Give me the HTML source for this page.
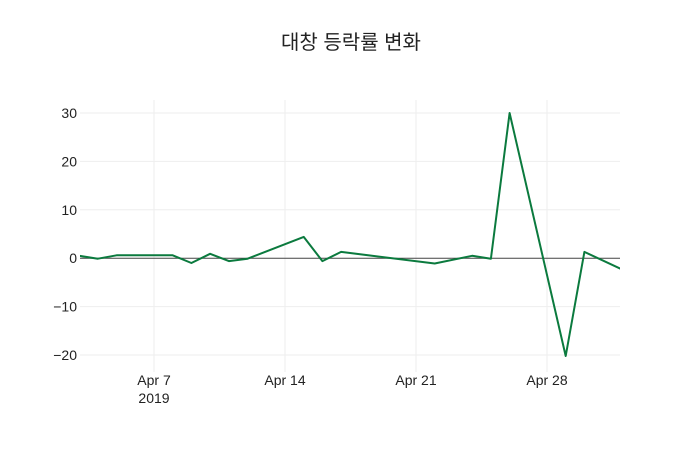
<!DOCTYPE html>
<html><head><meta charset="utf-8"><style>
body{margin:0;background:#fff;}
svg{display:block;font-family:"Liberation Sans","Noto Sans CJK KR",sans-serif;}
</style></head><body>
<svg id="chart" width="700" height="450">
<text x="351" y="49" text-anchor="middle" font-size="20" fill="#222">대창 등락률 변화</text>
<g id="grid"></g><g id="axes"></g><g id="series"></g>
</svg>
<script>
const dates = ["2019-04-03","2019-04-04","2019-04-05","2019-04-08","2019-04-09","2019-04-10","2019-04-11","2019-04-12","2019-04-15","2019-04-16","2019-04-17","2019-04-22","2019-04-24","2019-04-25","2019-04-26","2019-04-29","2019-04-30","2019-05-02"];
const values = [0.5,-0.1,0.6,0.6,-1.0,0.9,-0.6,-0.1,4.4,-0.6,1.3,-1.1,0.5,-0.1,30.0,-20.2,1.3,-2.3];
const yTicks = [-20,-10,0,10,20,30];
const xTickDates = ["2019-04-07","2019-04-14","2019-04-21","2019-04-28"];
const xTickLabels = ["Apr 7","Apr 14","Apr 21","Apr 28"];

const NS="http://www.w3.org/2000/svg";
const L=80,R=620,T=100,B=372;
const t0=Date.UTC(2019,3,7), day=86400000;
function xs(d){const p=d.split("-");const t=Date.UTC(+p[0],+p[1]-1,+p[2]);return 154+(t-t0)/day*18.714;}
function ys(v){return 258.2-v*4.84;}
function mk(tag,attrs,parent){const e=document.createElementNS(NS,tag);for(const k in attrs)e.setAttribute(k,attrs[k]);parent.appendChild(e);return e;}
const grid=document.getElementById("grid"),axes=document.getElementById("axes"),series=document.getElementById("series");
yTicks.forEach(v=>{
  const y=ys(v);
  if(v!==0){const g=mk("line",{x1:L,x2:R,y1:y,y2:y,stroke:"#eee","stroke-width":1},grid);
  
  }
  const t=mk("text",{x:L-3,y:y+5,"text-anchor":"end","font-size":14,fill:"#222"},axes);
  t.textContent=v<0?"\u2212"+Math.abs(v):String(v);
  
  
});
xTickDates.forEach((d,i)=>{
  const x=xs(d);
  const g=mk("line",{x1:x,x2:x,y1:T,y2:B,stroke:"#eee","stroke-width":1},grid);
  
  
  const t=mk("text",{x:x,y:385,"text-anchor":"middle","font-size":14,fill:"#222"},axes);
  t.textContent=xTickLabels[i];
  
  
});
const yr=mk("text",{x:xs(xTickDates[0]),y:403,"text-anchor":"middle","font-size":14,fill:"#222"},axes);
yr.textContent="2019";


const z=mk("line",{x1:L,x2:R,y1:ys(0),y2:ys(0),stroke:"#444","stroke-width":1},axes);


const cp=mk("clipPath",{id:"clip"},series);mk("rect",{x:L,y:T-20,width:R-L,height:B-T+40},cp);
const pts=dates.map((d,i)=>xs(d).toFixed(1)+","+ys(values[i]).toFixed(1)).join(" ");
const line=mk("polyline",{points:pts,fill:"none",stroke:"#0b7a3e","stroke-width":2,"stroke-linejoin":"round","clip-path":"url(#clip)"},series);


</script>
</body></html>
